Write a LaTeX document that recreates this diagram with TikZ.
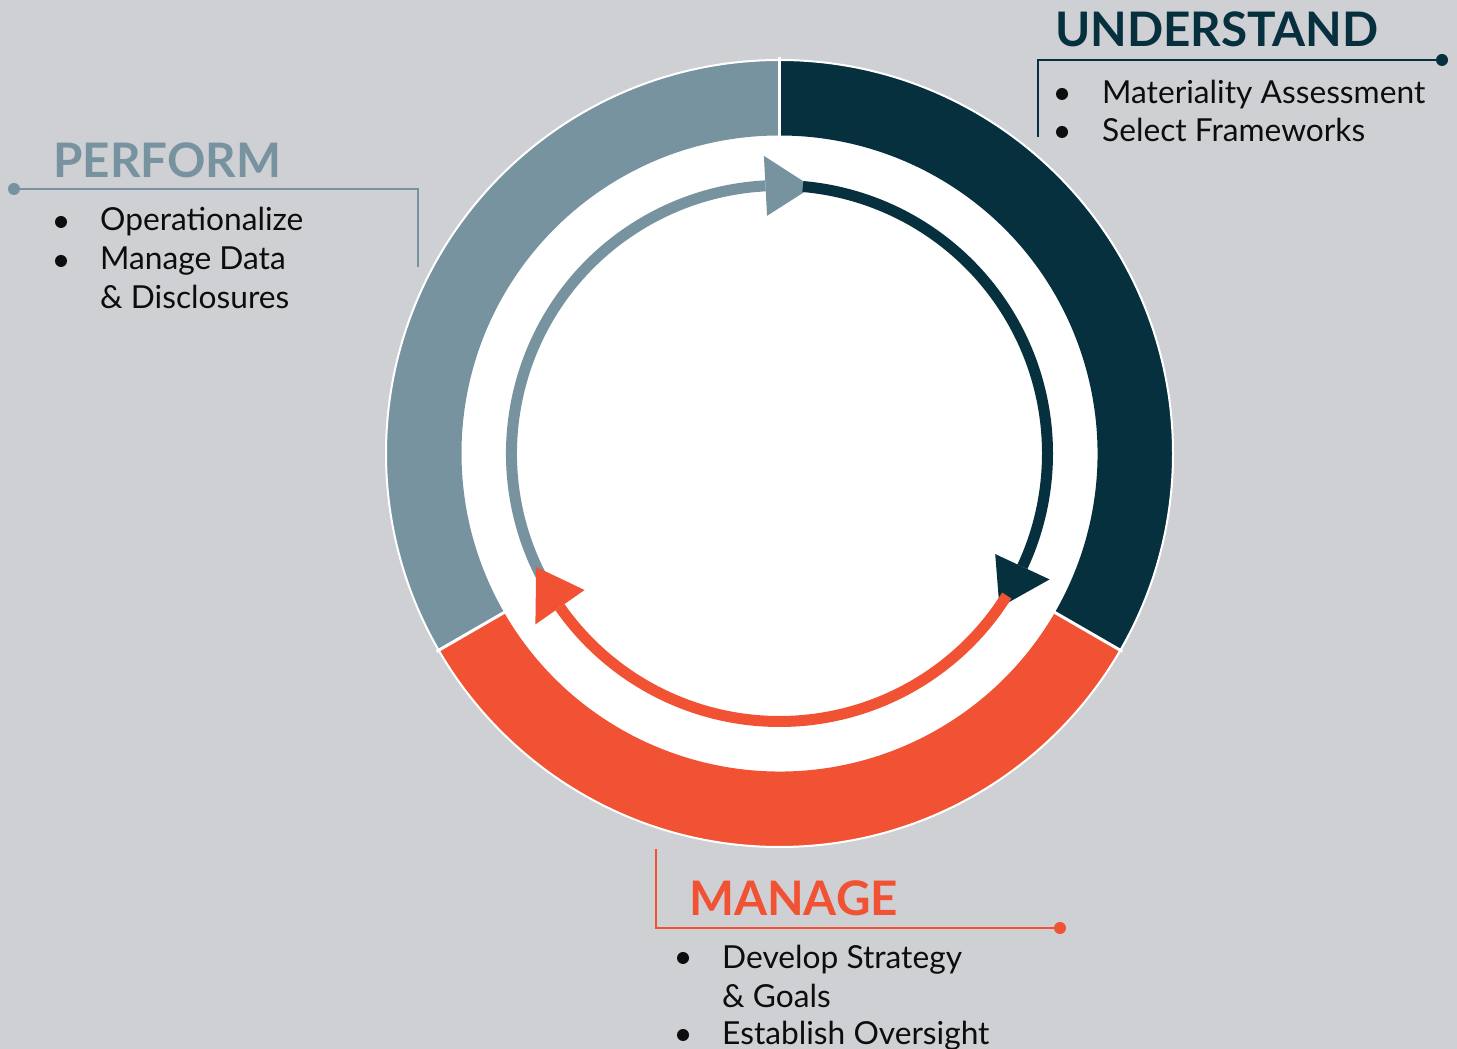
\documentclass[tikz,border=0pt]{standalone}
\usepackage{fontspec}
\setmainfont{Lato}
\begin{document}
\definecolor{bg}{HTML}{CFD0D4}
\definecolor{deep}{HTML}{07303F}
\definecolor{slate}{HTML}{7893A0}
\definecolor{flame}{HTML}{F05233}
\begin{tikzpicture}[x=1pt,y=1pt,
  heading/.style={anchor=base west, inner sep=0pt, font=\fontsize{47.6}{48}\selectfont\bfseries},
  item/.style={anchor=base west, inner sep=0pt, text=black!95, font=\fontsize{31.7}{32}\selectfont},
  bul/.style={fill=black!95, radius=6pt},
  callout/.style={line width=2.5pt},
  ringpart/.style={fill=#1},
  flow/.style={draw=#1, line width=11pt},
  head/.style={fill=#1}]
\useasboundingbox (0,0) rectangle (1457,1049);
\fill[bg] (0,0) rectangle (1457,1049);

% ---- outer ring in three phases ----
\begin{scope}[shift={(779.5,595.5)}]
  \fill[white] (0,0) circle[radius=394pt];
  \fill[ringpart=deep]  (90:393pt) arc[start angle=90, end angle=-30, radius=393pt]
     -- (-30:318pt) arc[start angle=-30, end angle=90, radius=318pt] -- cycle;
  \fill[ringpart=flame] (-30:393pt) arc[start angle=-30, end angle=-150, radius=393pt]
     -- (210:318pt) arc[start angle=210, end angle=330, radius=318pt] -- cycle;
  \fill[ringpart=slate] (210:393pt) arc[start angle=210, end angle=90, radius=393pt]
     -- (90:318pt) arc[start angle=90, end angle=210, radius=318pt] -- cycle;
  \draw[white, line width=2pt] (0,0) circle[radius=393.5pt];
  \foreach \a in {90,-30,210} \draw[white, line width=3pt] (\a:316pt) -- (\a:396pt);

  % ---- inner cycle arrows ----
  \draw[flow=slate] (211:268pt) arc[start angle=211, end angle=93, radius=268pt];
  \fill[head=slate] (93:238pt) -- (93:298pt) -- (83:268.5pt) -- cycle;
  \draw[flow=deep] (85:268pt) arc[start angle=85, end angle=-25, radius=268pt];
  \fill[head=deep] (-25:238pt) -- (-25:298pt) -- (-35:268.5pt) -- cycle;
  \draw[flow=flame] (-32:268pt) arc[start angle=-32, end angle=-145, radius=268pt];
  \fill[head=flame] (215:238pt) -- (215:298pt) -- (205:268.5pt) -- cycle;
\end{scope}

% ---- UNDERSTAND ----
\node[heading, text=deep] (und) at (1055,1002) {UNDERSTAND};
\coordinate (undTop) at (1038,912);
\coordinate (undCorner) at (1038,989);
\coordinate (undDot) at (1442,989);
\draw[callout, draw=deep] (undTop) -- (undCorner) -- (undDot);
\fill[deep] (undDot) circle[radius=6pt];
\fill[bul] (1062,955) circle;
\fill[bul] (1062,917) circle;
\node[item] (und1) at (1102,945) {Materiality Assessment};
\node[item] (und2) at (1102,907) {Select Frameworks};

% ---- PERFORM ----
\node[heading, text=slate] (perf) at (53,871) {PERFORM};
\coordinate (perfDot) at (14,860);
\coordinate (perfCorner) at (418,860);
\coordinate (perfEnd) at (418,782);
\draw[callout, draw=slate] (perfDot) -- (perfCorner) -- (perfEnd);
\fill[slate] (perfDot) circle[radius=6pt];
\fill[bul] (61,827) circle;
\fill[bul] (61,788) circle;
\node[item] (perf1) at (100,818) {Operationalize};
\node[item] (perf2) at (100,779) {Manage Data};
\node[item] (perf3) at (100,740) {\& Disclosures};

% ---- MANAGE ----
\node[heading, text=flame] (man) at (689,133) {MANAGE};
\coordinate (manTop) at (656,200);
\coordinate (manCorner) at (656,121);
\coordinate (manDot) at (1060,121);
\draw[callout, draw=flame] (manTop) -- (manCorner) -- (manDot);
\fill[flame] (manDot) circle[radius=6pt];
\fill[bul] (683,91) circle;
\fill[bul] (683,14) circle;
\node[item] (man1) at (722,80) {Develop Strategy};
\node[item] (man2) at (722,41) {\& Goals};
\node[item] (man3) at (722,4) {Establish Oversight};
\end{tikzpicture}
\end{document}
